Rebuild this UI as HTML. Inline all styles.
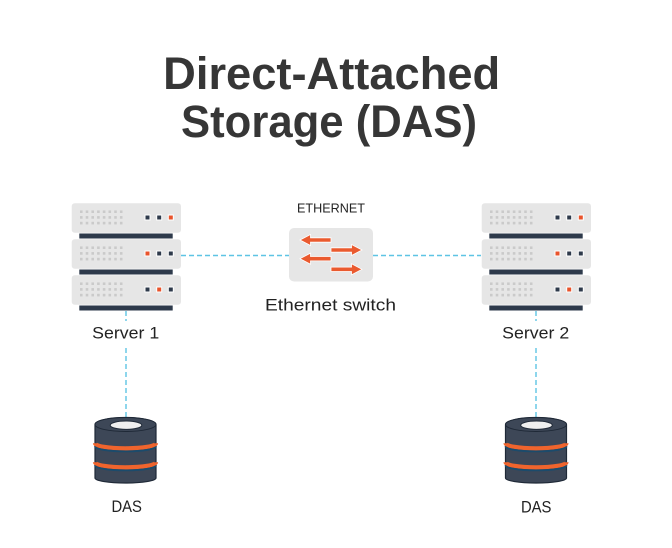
<!DOCTYPE html>
<html><head><meta charset="utf-8"><style>
html,body{margin:0;padding:0;background:#fff;}
svg{display:block;}
text{font-family:"Liberation Sans",sans-serif;}
</style></head><body>
<svg width="672" height="548" viewBox="0 0 672 548" xmlns="http://www.w3.org/2000/svg">
<defs>
  <g id="dotrow">
    <rect x="8.3" y="0" width="2.6" height="2.6"/><rect x="14" y="0" width="2.6" height="2.6"/>
    <rect x="19.7" y="0" width="2.6" height="2.6"/><rect x="25.4" y="0" width="2.6" height="2.6"/>
    <rect x="31.1" y="0" width="2.6" height="2.6"/><rect x="36.8" y="0" width="2.6" height="2.6"/>
    <rect x="42.5" y="0" width="2.6" height="2.6"/><rect x="48.2" y="0" width="2.6" height="2.6"/>
  </g>
  <g id="unit">
    <rect x="0" y="0" width="109.3" height="29.5" rx="3" fill="#e6e6e6"/>
    <g fill="#cacaca">
      <use href="#dotrow" y="7.1"/><use href="#dotrow" y="12.8"/><use href="#dotrow" y="18.5"/>
    </g>
    <rect x="7.6" y="30.2" width="93.4" height="5" fill="#2e3a4b"/>
  </g>
  <g id="cyl">
    <path d="M-30.5,424.5 L-30.5,478 A30.5,5 0 0 0 30.5,478 L30.5,424.5 A30.5,7 0 0 0 -30.5,424.5 Z" fill="#3d4757" stroke="#1f2937" stroke-width="1.2"/>
    <ellipse cx="0" cy="424.5" rx="30.5" ry="7" fill="#3d4757" stroke="#1f2937" stroke-width="1"/>
    <ellipse cx="0.5" cy="425.2" rx="15.8" ry="4.2" fill="#efefef" stroke="#1f2937" stroke-width="1"/>
    <path d="M-30.5,443.3 A30.5,5 0 0 0 30.5,443.3" fill="none" stroke="#f0642d" stroke-width="4.2"/>
    <path d="M-30.5,446.4 A30.5,5 0 0 0 30.5,446.4" fill="none" stroke="#1b4b6c" stroke-width="1.8"/>
    <path d="M-30.5,462.3 A30.5,5 0 0 0 30.5,462.3" fill="none" stroke="#f0642d" stroke-width="4.2"/>
    <path d="M-30.5,465.4 A30.5,5 0 0 0 30.5,465.4" fill="none" stroke="#1b4b6c" stroke-width="1.8"/>
  </g>
</defs>

<!-- Title -->
<text x="331.7" y="89" font-size="45" font-weight="bold" fill="#363636" text-anchor="middle" textLength="337" lengthAdjust="spacingAndGlyphs">Direct-Attached</text>
<text x="329" y="137" font-size="45" font-weight="bold" fill="#363636" text-anchor="middle" textLength="296" lengthAdjust="spacingAndGlyphs">Storage (DAS)</text>

<!-- dashed connectors -->
<g stroke="#5ec4e4" stroke-width="1.4" stroke-dasharray="5 3" fill="none">
  <line x1="181" y1="255.5" x2="289" y2="255.5"/>
  <line x1="373" y1="255.5" x2="481" y2="255.5"/>
  <line x1="126" y1="311" x2="126" y2="321"/>
  <line x1="126" y1="348" x2="126" y2="418"/>
  <line x1="536" y1="311" x2="536" y2="321"/>
  <line x1="536" y1="348" x2="536" y2="418"/>
</g>

<!-- Server 1 -->
<use href="#unit" x="71.7" y="203.3"/>
<use href="#unit" x="71.7" y="239.3"/>
<use href="#unit" x="71.7" y="275.3"/>
<g stroke="#fff" stroke-width="1">
  <rect x="145" y="215" width="5" height="5" fill="#2e3a4b"/>
  <rect x="156.7" y="215" width="5" height="5" fill="#2e3a4b"/>
  <rect x="168.3" y="215" width="5" height="5" fill="#e9532b"/>
  <rect x="145" y="251" width="5" height="5" fill="#e9532b"/>
  <rect x="156.7" y="251" width="5" height="5" fill="#2e3a4b"/>
  <rect x="168.3" y="251" width="5" height="5" fill="#2e3a4b"/>
  <rect x="145" y="287" width="5" height="5" fill="#2e3a4b"/>
  <rect x="156.7" y="287" width="5" height="5" fill="#e9532b"/>
  <rect x="168.3" y="287" width="5" height="5" fill="#2e3a4b"/>
</g>

<!-- Server 2 -->
<use href="#unit" x="481.7" y="203.3"/>
<use href="#unit" x="481.7" y="239.3"/>
<use href="#unit" x="481.7" y="275.3"/>
<g stroke="#fff" stroke-width="1">
  <rect x="555" y="215" width="5" height="5" fill="#2e3a4b"/>
  <rect x="566.7" y="215" width="5" height="5" fill="#2e3a4b"/>
  <rect x="578.3" y="215" width="5" height="5" fill="#e9532b"/>
  <rect x="555" y="251" width="5" height="5" fill="#e9532b"/>
  <rect x="566.7" y="251" width="5" height="5" fill="#2e3a4b"/>
  <rect x="578.3" y="251" width="5" height="5" fill="#2e3a4b"/>
  <rect x="555" y="287" width="5" height="5" fill="#2e3a4b"/>
  <rect x="566.7" y="287" width="5" height="5" fill="#e9532b"/>
  <rect x="578.3" y="287" width="5" height="5" fill="#2e3a4b"/>
</g>

<!-- Switch -->
<rect x="289" y="228" width="84" height="53.5" rx="5" fill="#e6e6e6"/>
<g fill="#ea5a2f" stroke="#fff" stroke-width="0.8" stroke-linejoin="miter">
  <polygon points="300,240 310.5,234.5 310.5,237.8 331,237.8 331,242.2 310.5,242.2 310.5,245.5"/>
  <polygon points="362,250 351.5,244.5 351.5,247.8 331,247.8 331,252.2 351.5,252.2 351.5,255.5"/>
  <polygon points="300,258.7 310.5,253.2 310.5,256.5 331,256.5 331,260.9 310.5,260.9 310.5,264.2"/>
  <polygon points="362,269.3 351.5,263.8 351.5,267.1 331,267.1 331,271.5 351.5,271.5 351.5,274.8"/>
</g>

<!-- Labels -->
<text x="331" y="212.5" font-size="12.5" fill="#222" text-anchor="middle" textLength="68" lengthAdjust="spacingAndGlyphs">ETHERNET</text>
<text x="330.5" y="310.5" font-size="17" fill="#222" text-anchor="middle" textLength="131" lengthAdjust="spacingAndGlyphs">Ethernet switch</text>
<text x="125.7" y="338.5" font-size="17" fill="#222" text-anchor="middle" textLength="67" lengthAdjust="spacingAndGlyphs">Server 1</text>
<text x="535.7" y="338.5" font-size="17" fill="#222" text-anchor="middle" textLength="67" lengthAdjust="spacingAndGlyphs">Server 2</text>

<!-- DAS cylinders -->
<use href="#cyl" x="125.5" y="0"/>
<use href="#cyl" x="536" y="0"/>
<text x="126.7" y="512" font-size="16.5" fill="#222" text-anchor="middle" textLength="30.5" lengthAdjust="spacingAndGlyphs">DAS</text>
<text x="536.2" y="512.5" font-size="16.5" fill="#222" text-anchor="middle" textLength="30.5" lengthAdjust="spacingAndGlyphs">DAS</text>
</svg>
</body></html>
